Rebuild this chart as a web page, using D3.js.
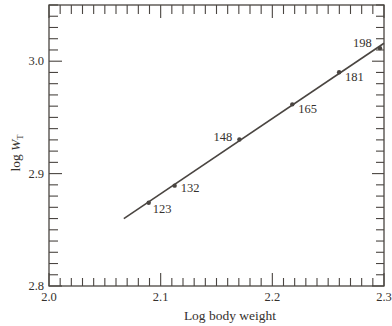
<!DOCTYPE html>
<html>
<head>
<meta charset="utf-8">
<script src="https://cdn.jsdelivr.net/npm/d3@7"></script>
<style>
    body { margin: 0; background: #fff; }
    text { font-family: "Liberation Serif", "DejaVu Serif", serif; fill: #35312e; }
</style>
</head>
<body>
<svg id="chart" width="392" height="326"></svg>
<script>
// values
const weightLabels = ["123", "132", "148", "165", "181", "198"];
const logBodyWeight = [2.0893, 2.1125, 2.1705, 2.2179, 2.2598, 2.2964];
const logWT = [2.8741, 2.8893, 2.9304, 2.9616, 2.9902, 3.0116];
const fitX = [2.067, 2.3];
const fitY = [2.860, 3.016];
const xTickLabels = ["2.0", "2.1", "2.2", "2.3"];
const yTickLabels = ["2.8", "2.9", "3.0"];

const ink = "#4a4541";
const svg = d3.select("#chart");
const plotL = 49, plotR = 384, plotT = 5, plotB = 286;

const x = d3.scaleLinear().domain([2.0, 2.3]).range([plotL, plotR]);
const y = d3.scaleLinear().domain([2.8, 3.05]).range([plotB, plotT]);

// frame
svg.append("rect")
    .attr("x", plotL).attr("y", plotT)
    .attr("width", plotR - plotL).attr("height", plotB - plotT)
    .attr("fill", "none").attr("stroke", ink).attr("stroke-width", 1.3);

// minor ticks every 0.01, majors every 0.1, all pointing inward
const xMinor = d3.range(0, 31).map(i => 2.0 + i * 0.01);
const yMinor = d3.range(0, 26).map(i => 2.8 + i * 0.01);
const isMajor = v => Math.abs(v * 10 - Math.round(v * 10)) < 1e-6;

const ticks = svg.append("g").attr("stroke", ink).attr("stroke-width", 1.1);
ticks.selectAll(".xb").data(xMinor).join("line").attr("class", "xb")
    .attr("x1", d => x(d)).attr("x2", d => x(d))
    .attr("y1", plotB).attr("y2", d => plotB - (isMajor(d) ? 13 : 8));
ticks.selectAll(".xt").data(xMinor).join("line").attr("class", "xt")
    .attr("x1", d => x(d)).attr("x2", d => x(d))
    .attr("y1", plotT).attr("y2", d => plotT + (isMajor(d) ? 13 : 9));
ticks.selectAll(".yl").data(yMinor).join("line").attr("class", "yl")
    .attr("y1", d => y(d)).attr("y2", d => y(d))
    .attr("x1", plotL).attr("x2", d => plotL + (isMajor(d) ? 13 : 9));
ticks.selectAll(".yr").data(yMinor).join("line").attr("class", "yr")
    .attr("y1", d => y(d)).attr("y2", d => y(d))
    .attr("x1", plotR).attr("x2", d => plotR - (isMajor(d) ? 12 : 8));

// tick labels
svg.selectAll(".xl").data(xTickLabels).join("text").attr("class", "xl")
    .attr("x", d => x(+d)).attr("y", 301)
    .attr("text-anchor", "middle").attr("font-size", 12.5).text(d => d);
svg.selectAll(".ylab").data(yTickLabels).join("text").attr("class", "ylab")
    .attr("x", 44).attr("y", d => y(+d) + 4)
    .attr("text-anchor", "end").attr("font-size", 12.5).text(d => d);

// axis titles
svg.append("text").attr("x", 230).attr("y", 320)
    .attr("text-anchor", "middle").attr("font-size", 13.5).text("Log body weight");
const yt = svg.append("text")
    .attr("transform", "translate(20,153) rotate(-90)")
    .attr("text-anchor", "middle").attr("font-size", 13.5);
yt.append("tspan").text("log ");
yt.append("tspan").attr("font-style", "italic").text("W");
yt.append("tspan").attr("font-size", 8.5).attr("dy", 3).text("T");

// fitted line
svg.append("line")
    .attr("x1", x(fitX[0])).attr("y1", y(fitY[0]))
    .attr("x2", x(fitX[1])).attr("y2", y(fitY[1]))
    .attr("stroke", ink).attr("stroke-width", 1.6);

// points and labels
const pts = weightLabels.map((w, i) => ({ w, bx: logBodyWeight[i], wy: logWT[i] }));
svg.selectAll(".pt").data(pts).join("circle").attr("class", "pt")
    .attr("cx", d => x(d.bx)).attr("cy", d => y(d.wy)).attr("r", 2.2)
    .attr("fill", ink);

const labelOffset = { "123": [4, 10], "132": [6, 6], "148": [-26, 2], "165": [6, 9], "181": [6, 9], "198": [-27, -1] };
svg.selectAll(".pl").data(pts).join("text").attr("class", "pl")
    .attr("x", d => x(d.bx) + labelOffset[d.w][0])
    .attr("y", d => y(d.wy) + labelOffset[d.w][1])
    .attr("font-size", 12.5).text(d => d.w);
</script>
</body>
</html>
